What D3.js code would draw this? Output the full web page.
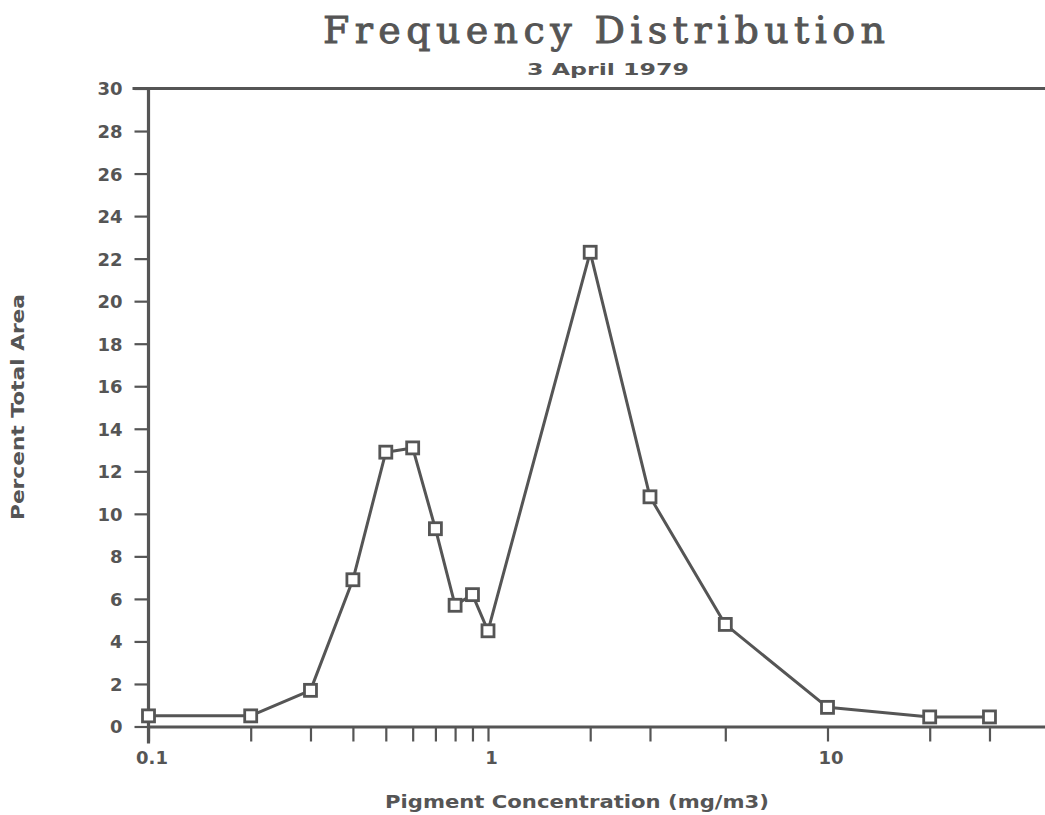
<!DOCTYPE html>
<html>
<head>
<meta charset="utf-8">
<script src="https://cdn.jsdelivr.net/npm/d3@7"></script>
<style>
  html, body { margin: 0; padding: 0; background: #fff; }
  svg { display: block; }
</style>
</head>
<body>
<svg id="chart" width="1045" height="815"></svg>
<script>
// Pigment concentration classes (mg/m3) and share of total area (%)
const concentration = [0.1, 0.2, 0.3, 0.4, 0.5, 0.6, 0.7, 0.8, 0.9, 1.0, 2, 3, 5, 10, 20, 30];
const percentArea   = [0.5, 0.5, 1.7, 6.9, 12.9, 13.1, 9.3, 5.7, 6.2, 4.5, 22.3, 10.8, 4.8, 0.9, 0.45, 0.45];

// Axis ticks
const xTickValues = concentration;
const xTickLabels = { 0.1: "0.1", 1: "1", 10: "10" };
const yTickValues = [0, 2, 4, 6, 8, 10, 12, 14, 16, 18, 20, 22, 24, 26, 28, 30];

const titleText = "Frequency Distribution";
const subtitleText = "3 April 1979";
const xTitle = "Pigment Concentration (mg/m3)";
const yTitle = "Percent Total Area";

const ink = "#555555";
const svg = d3.select("#chart");

const decade = 339.5;
const x = d3.scaleLog().domain([0.1, 50]).range([148.5, 148.5 + Math.log10(500) * decade]);
const y = d3.scaleLinear().domain([0, 30]).range([726.5, 88.5]);

const labelFont = "'DejaVu Sans', Verdana, sans-serif";

// Title block: slab serif, spread out like a typewriter face
svg.append("text")
  .attr("x", 604).attr("y", 43)
  .attr("text-anchor", "middle")
  .attr("font-family", "'DejaVu Serif', serif")
  .attr("font-size", 38)
  .attr("textLength", 562)
  .attr("lengthAdjust", "spacing")
  .attr("fill", ink)
  .attr("stroke", ink)
  .attr("stroke-width", 0.9)
  .text(titleText);

svg.append("text")
  .attr("x", 608).attr("y", 75)
  .attr("text-anchor", "middle")
  .attr("font-family", labelFont)
  .attr("font-weight", "bold")
  .attr("font-size", 16.5)
  .attr("textLength", 162)
  .attr("lengthAdjust", "spacingAndGlyphs")
  .attr("fill", ink)
  .text(subtitleText);

// Top frame line at the upper end of the value range
svg.append("line")
  .attr("x1", x(0.1) - 16).attr("x2", 1045)
  .attr("y1", y(30)).attr("y2", y(30))
  .attr("stroke", ink).attr("stroke-width", 3);

// X axis
const xAxis = svg.append("g")
  .attr("transform", `translate(0,${y(0)})`)
  .call(d3.axisBottom(x)
    .tickValues(xTickValues)
    .tickSize(15)
    .tickSizeOuter(0)
    .tickFormat(d => xTickLabels[d] || ""));
xAxis.select(".domain").attr("stroke", ink).attr("stroke-width", 3.2);
xAxis.selectAll(".tick line").attr("stroke", ink).attr("stroke-width", 2.2);
xAxis.selectAll(".tick text")
  .attr("fill", ink)
  .attr("font-family", labelFont)
  .attr("font-weight", "bold")
  .attr("font-size", 18)
  .attr("y", 37).attr("dy", 0).attr("dx", 3);

// Y axis
const yAxis = svg.append("g")
  .attr("transform", `translate(${x(0.1)},0)`)
  .call(d3.axisLeft(y)
    .tickValues(yTickValues)
    .tickSize(14)
    .tickPadding(12)
    .tickSizeOuter(0));
yAxis.select(".domain").remove();
yAxis.append("line")
  .attr("x1", 0).attr("x2", 0)
  .attr("y1", y(30)).attr("y2", y(0) + 17)
  .attr("stroke", ink).attr("stroke-width", 3.2);
yAxis.selectAll(".tick line").attr("stroke", ink).attr("stroke-width", 2.2);
yAxis.selectAll(".tick text")
  .attr("fill", ink)
  .attr("font-family", labelFont)
  .attr("font-weight", "bold")
  .attr("font-size", 18)
  .attr("dy", "0.36em");

// Axis titles
svg.append("text")
  .attr("x", 577).attr("y", 808)
  .attr("text-anchor", "middle")
  .attr("font-family", labelFont)
  .attr("font-weight", "bold")
  .attr("font-size", 18.5)
  .attr("textLength", 384)
  .attr("lengthAdjust", "spacingAndGlyphs")
  .attr("fill", ink)
  .text(xTitle);

svg.append("text")
  .attr("transform", "translate(24,407) rotate(-90)")
  .attr("text-anchor", "middle")
  .attr("font-family", labelFont)
  .attr("font-weight", "bold")
  .attr("font-size", 17.5)
  .attr("textLength", 226)
  .attr("lengthAdjust", "spacingAndGlyphs")
  .attr("fill", ink)
  .text(yTitle);

// Data line with square markers
const points = concentration.map((c, i) => ({ c, v: percentArea[i] }));

svg.append("path")
  .datum(points)
  .attr("fill", "none")
  .attr("stroke", ink)
  .attr("stroke-width", 3)
  .attr("stroke-linejoin", "round")
  .attr("d", d3.line().x(d => x(d.c)).y(d => y(d.v)));

const s = 12;
svg.append("g").selectAll("rect")
  .data(points)
  .join("rect")
  .attr("x", d => x(d.c) - s / 2)
  .attr("y", d => y(d.v) - s / 2)
  .attr("width", s).attr("height", s)
  .attr("fill", "#fff")
  .attr("stroke", ink)
  .attr("stroke-width", 2.8);
</script>
</body>
</html>
